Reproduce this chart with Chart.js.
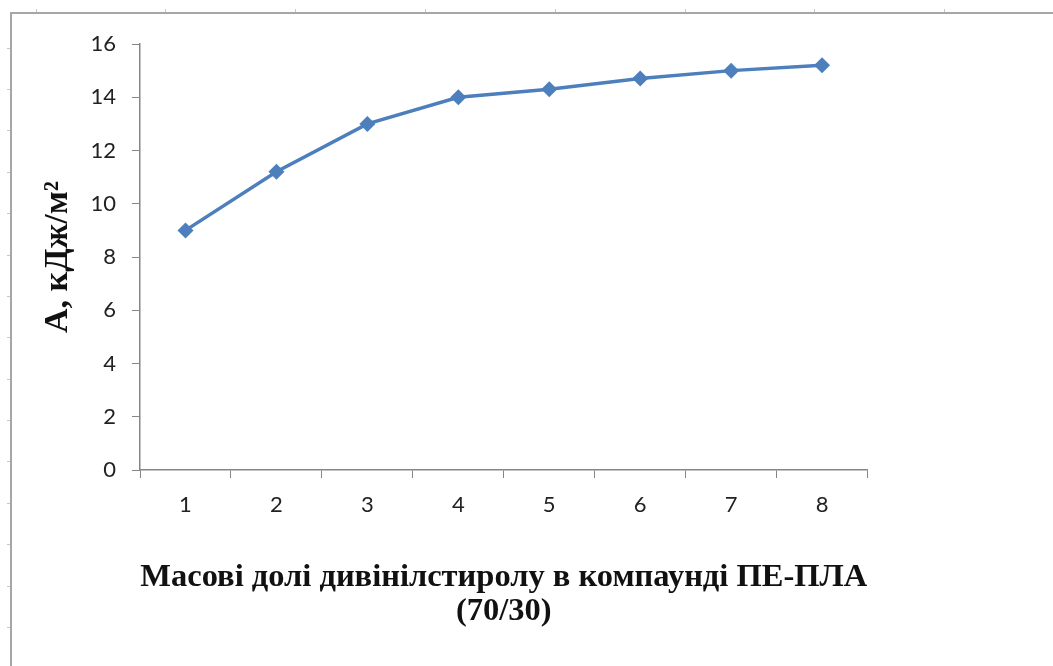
<!DOCTYPE html>
<html>
<head>
<meta charset="utf-8">
<script src="https://cdn.jsdelivr.net/npm/chart.js@4"></script>
<style>
html,body{margin:0;padding:0;background:#fff;}
#wrap{position:relative;width:1053px;height:666px;overflow:hidden;}
canvas{position:absolute;left:0;top:0;}
</style>
</head>
<body>
<div id="wrap"><canvas id="c" width="1053" height="666"></canvas></div>
<script>
const categories = ['1','2','3','4','5','6','7','8'];
const values = [9.0, 11.2, 13.0, 14.0, 14.3, 14.7, 15.0, 15.2];
const yTicks = [0, 2, 4, 6, 8, 10, 12, 14, 16];
const xTitle = ['Масові долі дивінілстиролу в компаунді ПЕ-ПЛА', '(70/30)'];
const yTitle = 'А, кДж/м²';

const framePlugin = {
  id: 'frame',
  beforeDraw(chart) {
    const ctx = chart.ctx;
    ctx.save();
    ctx.strokeStyle = '#a6a6a6';
    ctx.lineWidth = 2;
    ctx.beginPath();
    ctx.moveTo(11, 666);
    ctx.lineTo(11, 13);
    ctx.lineTo(1053, 13);
    ctx.stroke();
    ctx.lineWidth = 1;
    ctx.strokeStyle = '#c8c8c8';
    ctx.beginPath();
    for (let x = 35.5; x < 1053; x += 129.8) { ctx.moveTo(Math.round(x)+0.5, 9); ctx.lineTo(Math.round(x)+0.5, 12); }
    for (let y = 47.5; y < 666; y += 41.4) { ctx.moveTo(7, Math.round(y)+0.5); ctx.lineTo(10, Math.round(y)+0.5); }
    ctx.stroke();
    ctx.restore();
  }
};

new Chart(document.getElementById('c'), {
  type: 'line',
  data: {
    labels: categories,
    datasets: [{
      data: values,
      borderColor: '#4c7fbc',
      backgroundColor: '#4c7fbc',
      borderWidth: 3.5,
      pointStyle: 'rectRot',
      pointRadius: 8,
      pointHoverRadius: 8,
      pointBorderWidth: 0,
      tension: 0,
      fill: false
    }]
  },
  options: {
    responsive: false,
    animation: false,
    devicePixelRatio: 1,
    layout: { padding: { left: 12, top: 44, right: 185.5, bottom: 0 } },
    plugins: { legend: { display: false }, tooltip: { enabled: false }, title: { display: false } },
    scales: {
      x: {
        type: 'category',
        offset: true,
        afterFit(scale) { scale.height = 196; },
        grid: { offset: true, drawOnChartArea: false, drawTicks: true, tickLength: 8, color: '#868686', tickColor: '#868686' },
        border: { display: true, color: '#868686', width: 1.5 },
        ticks: { color: '#222', font: { family: 'Lato', size: 22 }, padding: 14, maxRotation: 0 },
        title: {
          display: true,
          text: xTitle,
          color: '#111',
          font: { family: 'Liberation Serif', size: 32.5, weight: 'bold', lineHeight: 1.05 },
          padding: { top: 0, bottom: 37 }
        }
      },
      y: {
        min: 0, max: 16,
        afterFit(scale) { scale.width = 128; },
        afterBuildTicks(scale) { scale.ticks = yTicks.map(v => ({ value: v })); },
        grid: { drawOnChartArea: false, drawTicks: true, tickLength: 8, color: '#868686', tickColor: '#868686' },
        border: { display: true, color: '#868686', width: 1.5 },
        ticks: { color: '#222', font: { family: 'Lato', size: 22 }, padding: 16 },
        title: {
          display: true,
          text: yTitle,
          color: '#111',
          font: { family: 'Liberation Serif', size: 34, weight: 'bold', lineHeight: 1.2 },
          padding: { top: 26, bottom: 0 }
        }
      }
    }
  },
  plugins: [framePlugin]
});
</script>
</body>
</html>
